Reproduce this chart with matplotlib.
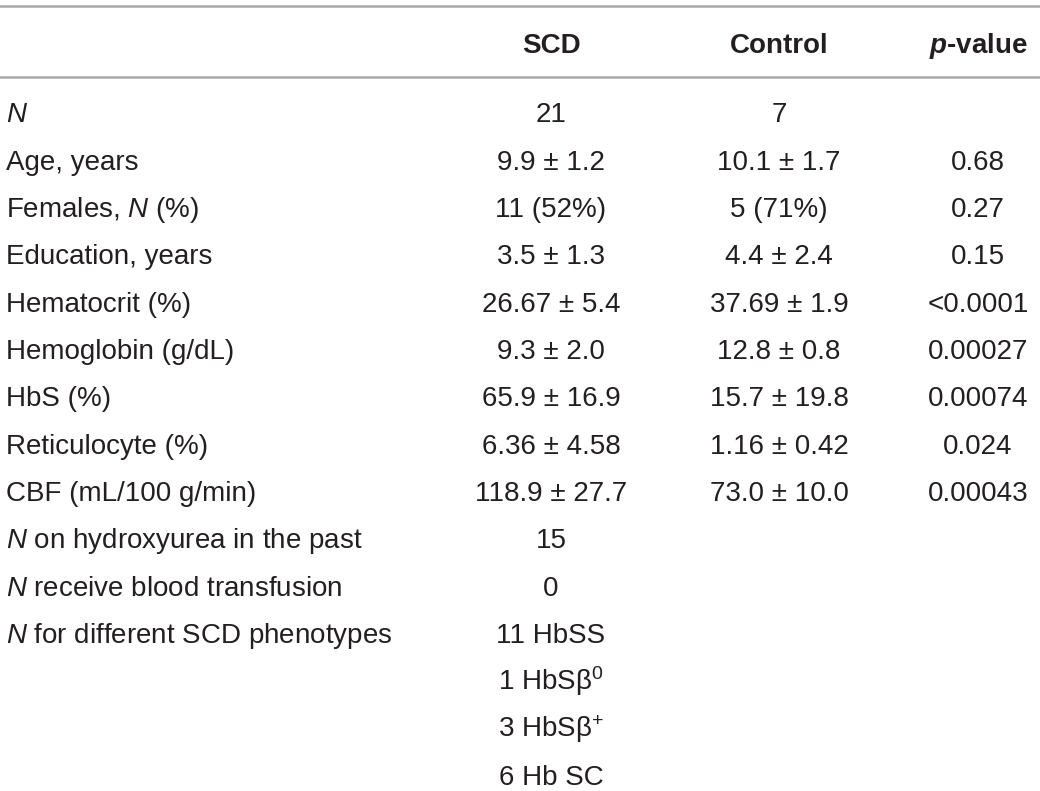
import matplotlib.pyplot as plt

plt.rcParams['font.family'] = ['Liberation Sans', 'DejaVu Sans']
plt.rcParams['mathtext.fontset'] = 'custom'
plt.rcParams['mathtext.rm'] = 'Liberation Sans'
plt.rcParams['mathtext.it'] = 'Liberation Sans:italic'
plt.rcParams['mathtext.bf'] = 'Liberation Sans:bold'
plt.rcParams['mathtext.bfit'] = 'Liberation Sans:italic:bold'

headers = ["", "SCD", "Control", r"$\mathbfit{p}$-value"]

labels = [
    r"$\mathit{N}$",
    "Age, years",
    r"Females, $\mathit{N}$ (%)",
    "Education, years",
    "Hematocrit (%)",
    "Hemoglobin (g/dL)",
    "HbS (%)",
    "Reticulocyte (%)",
    "CBF (mL/100 g/min)",
    r"$\mathit{N}$ on hydroxyurea in the past",
    r"$\mathit{N}$ receive blood transfusion",
    r"$\mathit{N}$ for different SCD phenotypes",
    "", "", "",
]
scd = [
    "21", "9.9 ± 1.2", "11 (52%)", "3.5 ± 1.3", "26.67 ± 5.4", "9.3 ± 2.0",
    "65.9 ± 16.9", "6.36 ± 4.58", "118.9 ± 27.7", "15", "0", "11 HbSS",
    r"1 HbSβ$^{0}$", r"3 HbSβ$^{+}$", "6 Hb SC",
]
control = [
    "7", "10.1 ± 1.7", "5 (71%)", "4.4 ± 2.4", "37.69 ± 1.9", "12.8 ± 0.8",
    "15.7 ± 19.8", "1.16 ± 0.42", "73.0 ± 10.0", "", "", "", "", "", "",
]
pval = [
    "", "0.68", "0.27", "0.15", "<0.0001", "0.00027", "0.00074", "0.024",
    "0.00043", "", "", "", "", "", "",
]

W, H = 1040, 791
fig = plt.figure(figsize=(W / 100, H / 100), dpi=100)
ax = fig.add_axes([0, 0, 1, 1])
ax.set_xlim(0, W)
ax.set_ylim(H, 0)
ax.axis('off')

txt = '#231f20'
fs = 20
col_x = [6, 551, 779, 978]
row0 = 122.5
step = 47.3

ax.axhline(6, color='#a8a8a8', lw=1.8)
ax.axhline(77, color='#a8a8a8', lw=1.8)

for j, h in enumerate(headers):
    if h:
        ax.text(col_x[j], 53, h, ha='center', va='baseline', fontsize=fs,
                fontweight='bold', color=txt)

for i in range(len(labels)):
    y = row0 + i * step
    ax.text(col_x[0], y, labels[i], ha='left', va='baseline', fontsize=fs, color=txt)
    ax.text(col_x[1], y, scd[i], ha='center', va='baseline', fontsize=fs, color=txt)
    ax.text(col_x[2], y, control[i], ha='center', va='baseline', fontsize=fs, color=txt)
    ax.text(col_x[3], y, pval[i], ha='center', va='baseline', fontsize=fs, color=txt)

fig.savefig('out.png', dpi=100)
